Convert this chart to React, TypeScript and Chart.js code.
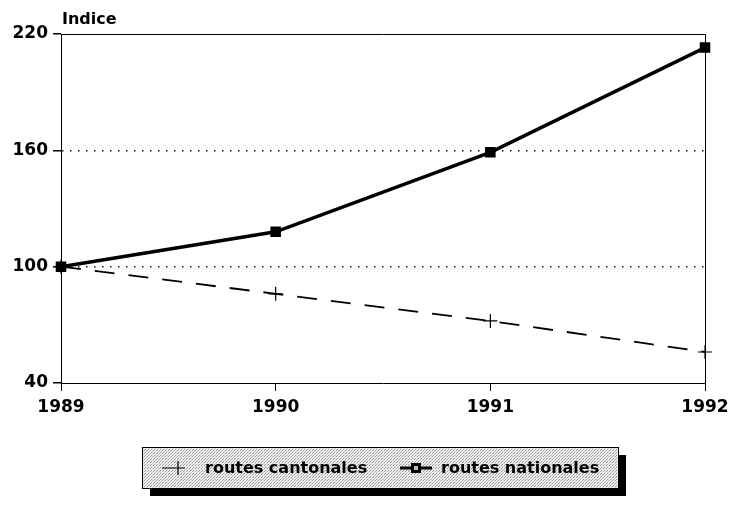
import React, { useEffect, useRef } from "react";
import { Chart, registerables } from "chart.js";

Chart.register(...registerables);

const years = ["1989", "1990", "1991", "1992"];
const routesCantonales = [100, 86, 72, 56];
const routesNationales = [100, 118, 159, 213];
const yTicks = [40, 100, 160, 220];
const yTitle = "Indice";
const seriesNames = ["routes cantonales", "routes nationales"];

const FONT = "'DejaVu Sans', sans-serif";

const framePlugin = {
  id: "frame",
  afterDraw(chart: any) {
    const { ctx, chartArea } = chart;
    ctx.save();
    ctx.strokeStyle = "#000";
    ctx.lineWidth = 1;
    ctx.setLineDash([]);
    ctx.beginPath();
    ctx.moveTo(chartArea.left, chartArea.top + 0.5);
    ctx.lineTo(chartArea.right + 0.5, chartArea.top + 0.5);
    ctx.lineTo(chartArea.right + 0.5, chartArea.bottom);
    ctx.stroke();
    // title
    ctx.fillStyle = "#000";
    ctx.font = `bold 16px ${FONT}`;
    ctx.textBaseline = "alphabetic";
    ctx.textAlign = "left";
    ctx.fillText(yTitle, chartArea.left + 1, chartArea.top - 10);

    // legend box
    const bx = 142, by = 447, bw = 476, bh = 41, sh = 8;
    ctx.fillStyle = "#000";
    ctx.fillRect(bx + sh, by + sh, bw, bh);
    const pc = document.createElement("canvas");
    pc.width = 3; pc.height = 3;
    const pctx = pc.getContext("2d")!;
    pctx.fillStyle = "#eeeeee";
    pctx.fillRect(0, 0, 3, 3);
    pctx.fillStyle = "#9a9a9a";
    pctx.fillRect(0, 0, 1, 1);
    pctx.fillRect(1, 2, 1, 1);
    pctx.fillStyle = "#c8c8c8";
    pctx.fillRect(2, 1, 1, 1);
    const pat = ctx.createPattern(pc, "repeat");
    ctx.fillStyle = pat;
    ctx.fillRect(bx, by, bw, bh);
    ctx.strokeStyle = "#000";
    ctx.lineWidth = 1;
    ctx.strokeRect(bx + 0.5, by + 0.5, bw, bh);

    const cy = by + 21;
    // item 1: cantonales
    ctx.lineWidth = 1.2;
    ctx.beginPath();
    ctx.moveTo(162, cy); ctx.lineTo(185, cy);
    ctx.moveTo(178, cy - 7); ctx.lineTo(178, cy + 7);
    ctx.stroke();
    ctx.fillStyle = "#000";
    ctx.font = `bold 16px ${FONT}`;
    ctx.textBaseline = "middle";
    ctx.fillText(seriesNames[0], 205, cy + 1);
    // item 2: nationales
    ctx.lineWidth = 3;
    ctx.beginPath();
    ctx.moveTo(400, cy); ctx.lineTo(432, cy);
    ctx.stroke();
    ctx.fillRect(411, cy - 5, 10, 10);
    ctx.fillStyle = "#bbb";
    ctx.fillRect(414, cy - 2, 4, 4);
    ctx.fillStyle = "#000";
    ctx.fillText(seriesNames[1], 441, cy + 1);
    ctx.restore();
  },
};

export default function App() {
  const ref = useRef<HTMLCanvasElement>(null);
  useEffect(() => {
    const chart = new Chart(ref.current!, {
      type: "line",
      data: {
        labels: years,
        datasets: [
          {
            label: seriesNames[0],
            data: routesCantonales,
            borderColor: "#000",
            borderWidth: 1.8,
            borderDash: [20, 14],
            pointStyle: "cross",
            pointRadius: 7,
            pointBorderColor: "#000",
            pointBorderWidth: 1.2,
            tension: 0,
          },
          {
            label: seriesNames[1],
            data: routesNationales,
            borderColor: "#000",
            borderWidth: 3.5,
            pointStyle: "rect",
            pointRadius: 5,
            pointBackgroundColor: "#000",
            pointBorderColor: "#000",
            tension: 0,
          },
        ],
      },
      options: {
        responsive: false,
        animation: false,
        layout: { padding: { left: 0, top: 34, right: 33, bottom: 0 } },
        plugins: { legend: { display: false }, tooltip: { enabled: false } },
        scales: {
          x: {
            type: "category",
            offset: false,
            grid: {
              drawOnChartArea: false,
              color: "#000",
              tickColor: "#000",
              tickLength: 8,
            },
            border: { display: true, color: "#000", width: 1 },
            ticks: {
              color: "#000",
              font: { family: FONT, size: 17, weight: "bold" },
              padding: 6,
              maxRotation: 0,
            },
            afterFit(scale: any) {
              scale.height = 122;
            },
          },
          y: {
            min: 40,
            max: 220,
            afterBuildTicks(scale: any) {
              scale.ticks = yTicks.map((v) => ({ value: v }));
            },
            grid: {
              color: (c: any) =>
                c.tick && (c.tick.value === 40 || c.tick.value === 220)
                  ? "rgba(0,0,0,0)"
                  : "#111",
              lineWidth: 1.5,
              tickColor: "#000",
              tickLength: 8,
              tickBorderDash: [],
            },
            border: { display: true, color: "#000", width: 1, dash: [1.5, 6.5] },
            ticks: {
              color: "#000",
              font: { family: FONT, size: 17, weight: "bold" },
              padding: 5,
            },
            afterFit(scale: any) {
              scale.width = 61;
            },
          },
        },
      },
      plugins: [framePlugin],
    });
    return () => chart.destroy();
  }, []);
  return (
    <div style={{ position: "absolute", left: 0, top: 0, width: 738, height: 505, background: "#fff" }}>
      <canvas ref={ref} width={738} height={505} />
    </div>
  );
}
